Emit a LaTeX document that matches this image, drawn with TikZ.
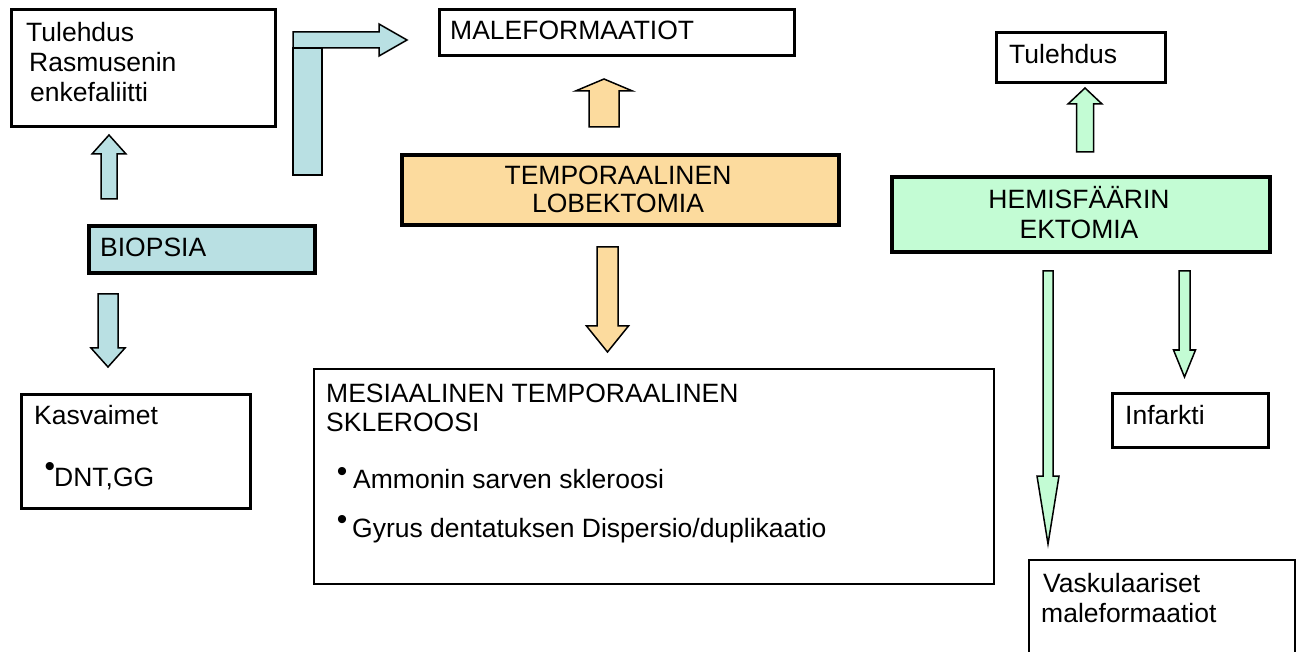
\documentclass[tikz,border=0pt]{standalone}
\usepackage{fontspec}
\setmainfont{Liberation Sans}
\definecolor{bluefill}{HTML}{B9E0E3}
\definecolor{orangefill}{HTML}{FCDB9E}
\definecolor{greenfill}{HTML}{C3FCD4}
% vertical block arrow: cx, tail y, head-base y, tip y, shaft half width, head half width, style
\newcommand{\blockvarrow}[7]{%
  \filldraw[#7] ({#1-#5},#2) -- ({#1-#5},#3) -- ({#1-#6},#3) -- (#1,#4)
    -- ({#1+#6},#3) -- ({#1+#5},#3) -- ({#1+#5},#2) -- cycle;}
\begin{document}
\begin{tikzpicture}[x=1pt,y=-1pt,
  every node/.style={font=\fontsize{26.5}{29.5}\selectfont},
  lbl/.style={anchor=base west, inner sep=0pt},
  clbl/.style={anchor=base, inner sep=0pt},
  bul/.style={anchor=center, inner sep=0pt, font=\fontsize{30}{30}\selectfont},
  boxbase/.style={draw=black, anchor=north west, inner sep=0pt, fill=white},
  boxthin/.style={boxbase, line width=2pt},
  boxmid/.style={boxbase, line width=3pt},
  boxthick/.style={boxbase, line width=4pt},
  arrbase/.style={draw=black, line width=1.5pt, line join=miter},
  barrow/.style={arrbase, fill=bluefill},
  oarrow/.style={arrbase, fill=orangefill},
  garrow/.style={arrbase, fill=greenfill}]
\useasboundingbox (0,0) rectangle (1296,652);
\fill[white] (0,0) rectangle (1296,652);

% ---------- left column ----------
\node[boxmid, minimum width=264pt, minimum height=117pt] (inflA) at (9.5,8.5) {};
\node[lbl] (inflA1) at (26,42) {Tulehdus};
\node[lbl] (inflA2) at (29,72) {Rasmusenin};
\node[lbl] (inflA3) at (30,102) {enkefaliitti};

\node[boxthick, fill=bluefill, minimum width=226pt, minimum height=47pt] (biopsia) at (87,224) {};
\node[lbl] (biopsiaT) at (100,257) {BIOPSIA};

\node[boxmid, minimum width=229pt, minimum height=114pt] (kasv) at (19.5,392.5) {};
\node[lbl] (kasvT) at (34,424) {Kasvaimet};
\node[bul] (kasvB) at (50,469) {\textbullet};
\node[lbl] (kasvT2) at (54,486) {DNT,GG};

% blue arrows
\blockvarrow{109}{199}{154}{135}{8}{17}{barrow}
\blockvarrow{108}{294}{348}{367}{10}{17}{barrow}
\filldraw[barrow] (293,48) rectangle (322,175);
\filldraw[barrow] (293,32) -- (379,32) -- (379,24) -- (407,40) -- (379,56)
  -- (379,48) -- (293,48) -- cycle;

% ---------- middle column ----------
\node[boxmid, minimum width=355pt, minimum height=46pt] (malef) at (437.5,8.5) {};
\node[lbl] (malefT) at (450,40) {MALEFORMAATIOT};

\node[boxthick, fill=orangefill, minimum width=437pt, minimum height=70pt] (tlob) at (400,153) {};
\node[clbl] (tlobT1) at (618,185) {TEMPORAALINEN};
\node[clbl] (tlobT2) at (618,213) {LOBEKTOMIA};

\node[boxthin, minimum width=680pt, minimum height=215pt] (mesia) at (313,368) {};
\node[lbl] (mesiaT1) at (326,402) {MESIAALINEN TEMPORAALINEN};
\node[lbl] (mesiaT2) at (326,431) {SKLEROOSI};
\node[bul] (mesiaB1) at (342,474) {\textbullet};
\node[lbl] (mesiaT3) at (353,488) {Ammonin sarven skleroosi};
\node[bul] (mesiaB2) at (342,522) {\textbullet};
\node[lbl] (mesiaT4) at (352,537) {Gyrus dentatuksen Dispersio/duplikaatio};

% orange arrows
\blockvarrow{604}{127}{91}{79}{15}{28.5}{oarrow}
\blockvarrow{607.5}{247}{326}{352}{10.5}{21}{oarrow}

% ---------- right column ----------
\node[boxmid, minimum width=169pt, minimum height=50pt] (inflR) at (994.5,31.5) {};
\node[lbl] (inflRT) at (1009,64) {Tulehdus};

\node[boxthick, fill=greenfill, minimum width=378pt, minimum height=75pt] (hemis) at (890,175) {};
\node[clbl] (hemisT1) at (1079,209) {HEMISFÄÄRIN};
\node[clbl] (hemisT2) at (1079,239) {EKTOMIA};

\node[boxthin, line width=2.5pt, minimum width=156pt, minimum height=54pt] (infark) at (1111,392) {};
\node[lbl] (infarkT) at (1125,424) {Infarkti};

\node[boxthin, minimum width=266pt, minimum height=150pt] (vask) at (1028,559) {};
\node[lbl] (vaskT1) at (1043,592) {Vaskulaariset};
\node[lbl] (vaskT2) at (1041,622) {maleformaatiot};

% green arrows
\blockvarrow{1085}{152}{104}{88}{8.5}{17}{garrow}
\blockvarrow{1048}{271}{476}{544}{5}{11}{garrow}
\blockvarrow{1184.5}{271}{350}{377}{5.5}{11}{garrow}
\end{tikzpicture}
\end{document}
